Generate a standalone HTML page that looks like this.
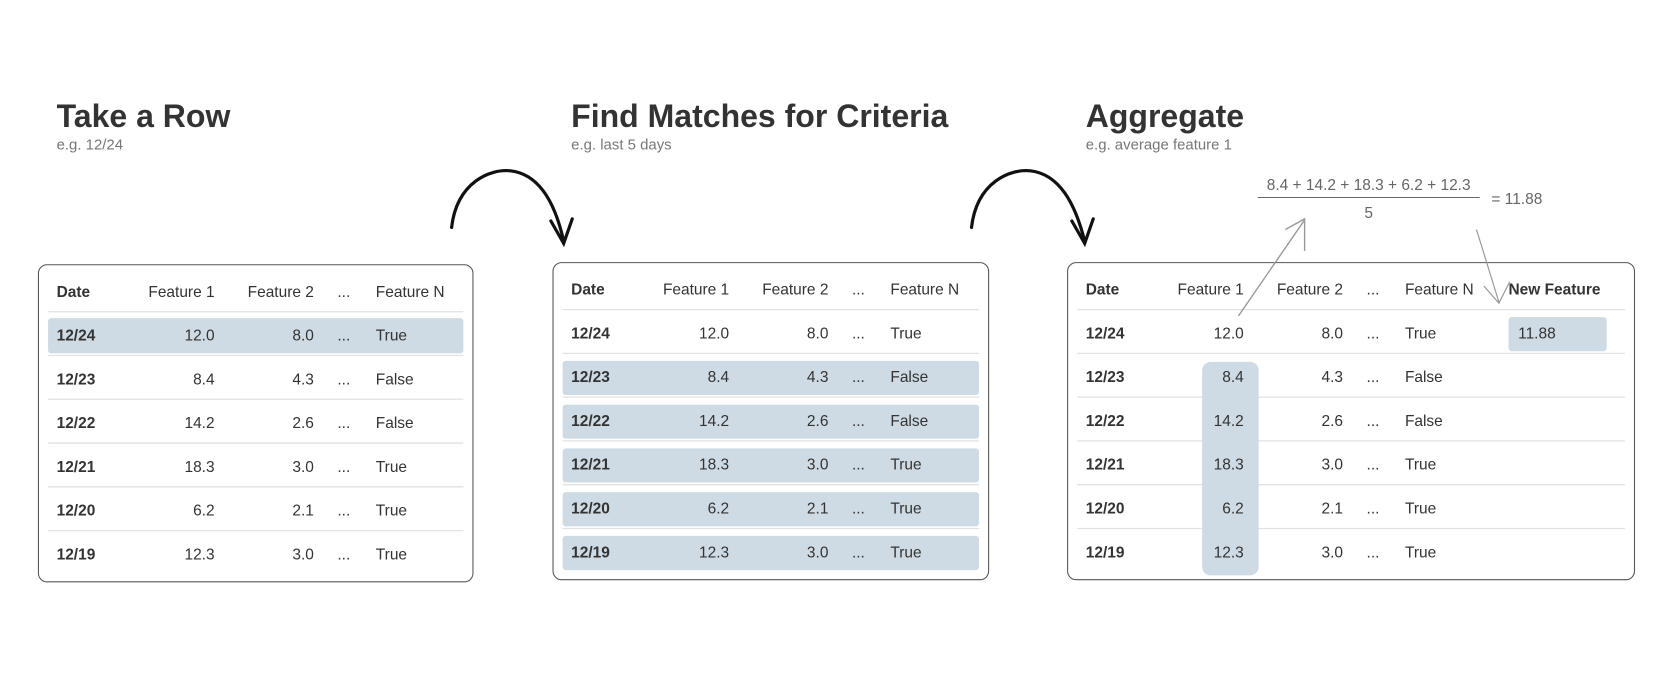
<!DOCTYPE html>
<html><head><meta charset="utf-8"><style>
html,body{margin:0;padding:0;background:#fff;}
svg{display:block;font-family:"Liberation Sans",sans-serif;}
</style></head><body>
<svg id="s" width="1674" height="676" viewBox="0 0 1568 633.2" xmlns="http://www.w3.org/2000/svg">
<g id="tables"></g>
<g>
<text x="53" y="119" font-size="30" font-weight="bold" fill="#333">Take a Row</text>
<text x="53" y="140" font-size="14" fill="#777">e.g. 12/24</text>
</g>
<g>
<text x="535" y="119" font-size="30" font-weight="bold" fill="#333">Find Matches for Criteria</text>
<text x="535" y="140" font-size="14" fill="#777">e.g. last 5 days</text>
</g>
<g>
<text x="1017" y="119" font-size="30" font-weight="bold" fill="#333">Aggregate</text>
<text x="1017" y="140" font-size="14" fill="#777">e.g. average feature 1</text>
</g>
<path d="M423 213 C428 170 460 158 478 160 C505 163 520 190 528 226 M516 207 L528 228 L536 205" fill="none" stroke="#111" stroke-width="3" stroke-linecap="round"/>
<path d="M910 213 C915 170 947 158 965 160 C992 163 1007 190 1016 226 M1004 207 L1016 228 L1024 205" fill="none" stroke="#111" stroke-width="3" stroke-linecap="round"/>
<g fill="#666" font-size="14.5">
<text x="1282" y="178" text-anchor="middle">8.4 + 14.2 + 18.3 + 6.2 + 12.3</text>
<line x1="1178" y1="185" x2="1386" y2="185" stroke="#666" stroke-width="1"/>
<text x="1282" y="204" text-anchor="middle">5</text>
<text x="1397" y="191">= 11.88</text>
</g>
<path d="M1160 296 L1222 206 M1204 215 L1222 205 L1222 235" fill="none" stroke="#999" stroke-width="1.3"/>
<path d="M1383 215 L1404 283 M1390 268 L1404 284 L1414 264" fill="none" stroke="#999" stroke-width="1.1"/>
</svg>
<script>
const dates=["12/24","12/23","12/22","12/21","12/20","12/19"];
const feature1=[12.0,8.4,14.2,18.3,6.2,12.3];
const feature2=[8.0,4.3,2.6,3.0,2.1,3.0];
const featureN=["True","False","False","True","True","True"];
const newFeature="11.88";
const NS="http://www.w3.org/2000/svg";
const root=document.getElementById('tables');
function el(tag,attrs,parent,txt){const e=document.createElementNS(NS,tag);for(const k in attrs)e.setAttribute(k,attrs[k]);if(txt!==undefined)e.textContent=txt;parent.appendChild(e);return e;}
function table(x,y,w,mode,name){
 const g=el('g',{},root);
 
 
 const b=el('rect',{x:x,y:y,width:w,height:297,rx:8,fill:'#fff',stroke:'#555','stroke-width':1},g);
 
 
 const hy=y+25;
 const sepR=x+w-9;
 for(let i=0;i<dates.length;i++){
  const sy=y+44+41*i;
  const l=el('line',{x1:x+9,y1:sy,x2:sepR,y2:sy,stroke:'#e2e2e2','stroke-width':1.2},g);
  
  
 }
 if(mode===0){const r=el('rect',{x:x+9,y:y+50,width:w-18,height:33,rx:3,fill:'#cfdbe4'},g);}
 if(mode===1){for(let i=1;i<dates.length;i++){const r=el('rect',{x:x+9,y:y+50+41*i+1,width:w-18,height:32,rx:3,fill:'#cfdbe4'},g);}}
 if(mode===2){const r=el('rect',{x:x+126,y:y+93,width:53,height:200,rx:8,fill:'#cfdbe4'},g);
  const n=el('rect',{x:x+413,y:y+51,width:92,height:32,rx:3,fill:'#cfdbe4'},g);}
 const hdr=[["Date",x+17,'start','bold'],["Feature 1",x+165,'end','normal'],["Feature 2",x+258,'end','normal'],["...",x+280,'start','normal'],["Feature N",x+316,'start','normal']];
 if(mode===2)hdr.push(["New Feature",x+413,'start','bold']);
 hdr.forEach(h=>{const t=el('text',{x:h[1],y:hy+5,'font-size':14.5,'text-anchor':h[2],'font-weight':h[3],fill:'#333'},g,h[0]);});
 for(let i=0;i<dates.length;i++){
  const cy=y+66+41*i+5;
  const cells=[[dates[i],x+17,'start','bold'],[feature1[i].toFixed(1),x+165,'end','normal'],[feature2[i].toFixed(1),x+258,'end','normal'],["...",x+280,'start','normal'],[featureN[i],x+316,'start','normal']];
  if(mode===2&&i===0)cells.push([newFeature,x+422,'start','normal']);
  cells.forEach(c=>{const t=el('text',{x:c[1],y:cy,'font-size':14.5,'text-anchor':c[2],'font-weight':c[3],fill:'#333'},g,c[0]);});
 }
}
table(36,248,407,0,'table-take-a-row');
table(518,246,408,1,'table-find-matches');
table(1000,246,531,2,'table-aggregate');
</script>
</body></html>
